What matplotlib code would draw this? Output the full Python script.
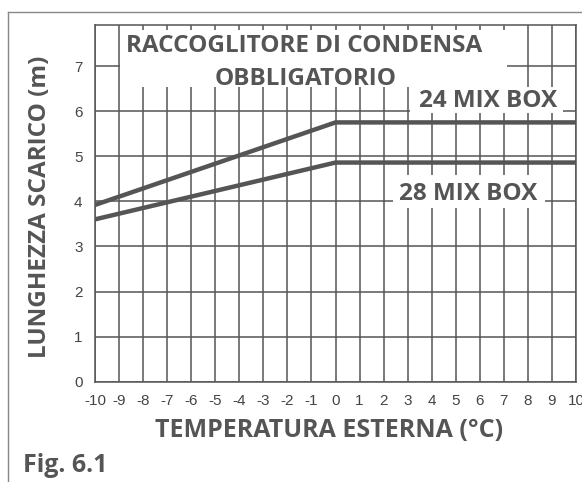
import matplotlib.pyplot as plt
from matplotlib.patches import Rectangle
from matplotlib.lines import Line2D

plt.rcParams['axes.unicode_minus'] = False

# dati
temp = [-10, 0, 10]
mix24 = [3.92, 5.75, 5.75]
mix28 = [3.6, 4.86, 4.86]
xticks = list(range(-10, 11))
yticks = list(range(0, 8))

grey = '#555555'
bold_font = 'Open Sans'
tick_font = 'Liberation Sans'

fig = plt.figure(figsize=(5.82, 4.82), dpi=100)
ax = fig.add_axes([95 / 582, 1 - 381.7 / 482, 481 / 582, 356.7 / 482])

# griglia
for x in xticks:
    ax.axvline(x, color=grey, lw=1.1, zorder=1)
for y in yticks:
    ax.axhline(y, color=grey, lw=1.1, zorder=1)

ax.set_xlim(-10, 10)
ax.set_ylim(0, 7.91)
for s in ax.spines.values():
    s.set_color(grey)
    s.set_linewidth(1.1)
ax.set_xticks(xticks)
ax.set_yticks(yticks)
ax.tick_params(length=0, labelsize=11, colors='#444444')
ax.tick_params(axis='x', pad=9)
ax.tick_params(axis='y', pad=9)
for lab in ax.get_xticklabels() + ax.get_yticklabels():
    lab.set_family(tick_font)

# riquadri bianchi dietro le scritte
for (x0, y0, x1, y1) in [(-8.95, 6.54, 7.15, 7.8), (3.1, 5.95, 9.46, 6.54), (2.39, 3.85, 8.71, 4.58)]:
    ax.add_patch(Rectangle((x0, y0), x1 - x0, y1 - y0, facecolor='white',
                           edgecolor='none', zorder=2))

ax.plot(temp, mix24, color=grey, lw=3.2, solid_capstyle='round', zorder=3)
ax.plot(temp, mix28, color=grey, lw=3.2, solid_capstyle='round', zorder=3)

txt = dict(ha='center', va='baseline', fontsize=17.5, fontweight='bold',
           family=bold_font, color=grey, zorder=4)
ax.text(-1.31, 7.317, 'RACCOGLITORE DI CONDENSA', **txt)
ax.text(-1.23, 6.579, 'OBBLIGATORIO', **txt)
ax.text(6.34, 6.091, '24 MIX BOX', **txt)
ax.text(5.51, 4.029, '28 MIX BOX', **txt)

fig.text(329 / 582, 1 - 437 / 482, 'TEMPERATURA ESTERNA (°C)', ha='center', va='baseline',
         fontsize=18, fontweight='bold', family=bold_font, color=grey)
fig.text(40 / 582, 1 - 207 / 482, 'LUNGHEZZA SCARICO (m)', ha='center', va='center',
         rotation=90, fontsize=17.5, fontweight='bold', family=bold_font, color=grey)
fig.text(23 / 582, 1 - 472 / 482, 'Fig. 6.1', ha='left', va='baseline',
         fontsize=18, fontweight='bold', family=bold_font, color=grey)

# cornice esterna
fig.add_artist(Line2D([8 / 582, 1], [1 - 12 / 482] * 2, color='#888888', lw=1))
fig.add_artist(Line2D([8 / 582] * 2, [0, 1 - 12 / 482], color='#888888', lw=1))

plt.savefig('out.png', dpi=100)
